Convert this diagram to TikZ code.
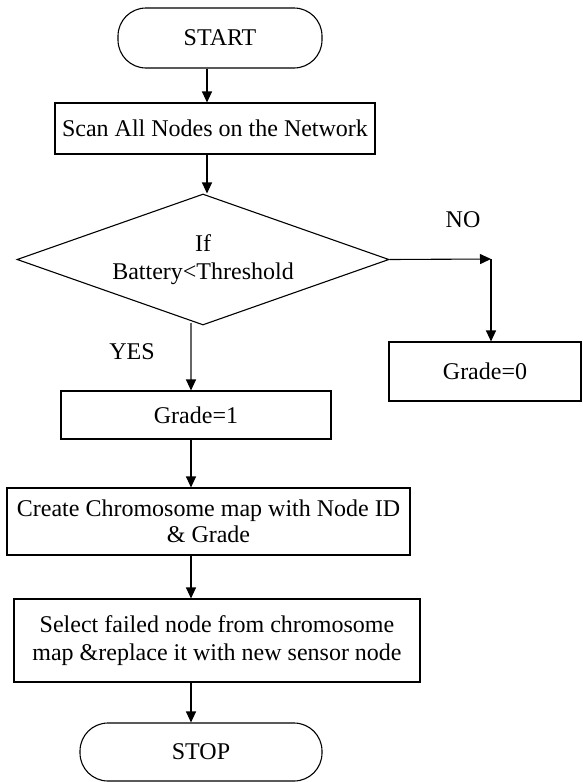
\documentclass[tikz,border=0pt]{standalone}
\usepackage{fontspec}
\setmainfont{Liberation Serif}
\usetikzlibrary{arrows.meta,shapes.geometric}

\tikzset{
	box/.style={draw, line width=1.1pt, align=center, inner sep=0pt},
	terminal/.style={box, rounded corners=28pt},
	decision/.style={box, diamond, aspect=2.9},
	flow/.style={-{Triangle[width=10pt,length=11pt]}, line width=1.1pt},
}

\begin{document}
\begin{tikzpicture}[x=1pt, y=-1pt, font=\fontsize{24}{28}\selectfont]
	\useasboundingbox (0,0) rectangle (583,782);
	\coordinate (upper) at (207,0);
	\coordinate (lower) at (191,0);
	\coordinate (turn) at (491,259);
	\node [terminal, minimum width=204pt, minimum height=60pt] (start) at (220,38) {START};
	\node [box, minimum width=320pt, minimum height=51pt] (scan) at (215,128.5) {Scan All Nodes on the Network};
	\node [decision, minimum width=372pt, minimum height=131pt] (check) at (203,259.5) {If\\Battery<Threshold};
	\node [box, minimum width=192pt, minimum height=59pt] (gradezero) at (485,371.5) {Grade=0};
	\node [box, minimum width=270pt, minimum height=48pt] (gradeone) at (196,415) {Grade=1};
	\node [box, minimum width=403pt, minimum height=67pt, font=\fontsize{24}{26}\selectfont] (chromo) at (208.5,521.5) {Create Chromosome map with Node ID\\\& Grade};
	\node [box, minimum width=406pt, minimum height=83pt] (select) at (217,640.5) {Select failed node from chromosome\\map \&replace it with new sensor node};
	\node [terminal, minimum width=242pt, minimum height=58pt] (stop) at (201,752) {STOP};
	\node (no) at (463,220) {NO};
	\node (yes) at (132,352) {YES};
	\draw [flow] (start.south -| upper) -- (scan.north -| upper);
	\draw [flow] (scan.south -| upper) -- (check.north -| upper);
	\draw [flow] (check.east) -- (turn);
	\draw [flow] (turn) -- (gradezero.north -| turn);
	\draw [flow, draw=black!60, -{Triangle[width=10pt,length=11pt,color=black]}] ([yshift=3pt]check.south -| lower) -- (gradeone.north -| lower);
	\draw [flow] (gradeone.south -| lower) -- (chromo.north -| lower);
	\draw [flow] (chromo.south -| lower) -- (select.north -| lower);
	\draw [flow] (select.south -| lower) -- (stop.north -| lower);
\end{tikzpicture}
\end{document}
